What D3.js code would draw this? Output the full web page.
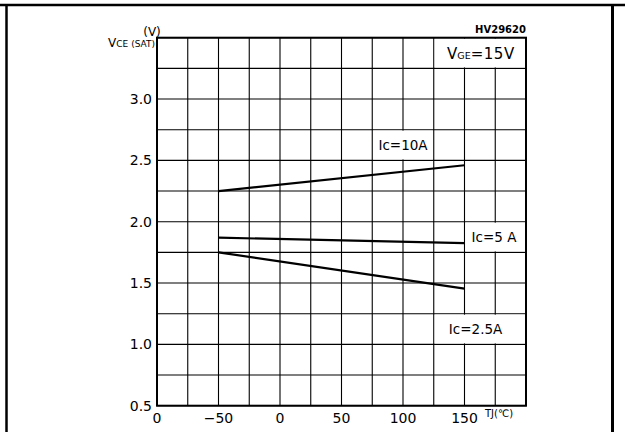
<!DOCTYPE html>
<html>
<head>
<meta charset="utf-8">
<script src="https://cdn.jsdelivr.net/npm/d3@7"></script>
<style>
  body { margin: 0; background: white; }
  text { font-family: "DejaVu Sans", sans-serif; fill: black; }
</style>
</head>
<body>
<script>
// ---------------------------------------------------------------- //
//                              DATA                                //
// ---------------------------------------------------------------- //

var tempPoints   = [-50, 150];
var seriesNames  = ["Ic=10A", "Ic=5 A", "Ic=2.5A"];
var seriesValues = [[2.25, 2.46], [1.87, 1.825], [1.75, 1.455]];

var xTickValues  = [-100, -50, 0, 50, 100, 150];
var xTickLabels  = ["0", "\u221250", "0", "50", "100", "150"];
var yTickValues  = [0.5, 1.0, 1.5, 2.0, 2.5, 3.0];
var yTickLabels  = ["0.5", "1.0", "1.5", "2.0", "2.5", "3.0"];

// label boxes: [t0, t1, v0, v1], text and anchor point
var labelBoxes = [
    { text: "Ic=10A",  box: [75, 125, 2.5, 2.75],  at: [100, 2.625] },
    { text: "Ic=5 A",  box: [150, 200, 1.75, 2.0], at: [174, 1.875] },
    { text: "Ic=2.5A", box: [125, 200, 1.0, 1.25], at: [159, 1.125] }
];

// ---------------------------------------------------------------- //
//                              SETUP                               //
// ---------------------------------------------------------------- //

var W = 625, H = 432;
var svg = d3.select("body").append("svg")
    .attr("width", W)
    .attr("height", H);

var x = d3.scaleLinear().domain([-100, 200]).range([157, 526]);
var y = d3.scaleLinear().domain([0.5, 3.5]).range([405.7, 37.7]);

// outer frame
svg.append("line").attr("x1", 0).attr("x2", W).attr("y1", 5).attr("y2", 5)
    .attr("stroke", "black").attr("stroke-width", 2.5);
svg.append("line").attr("x1", 6.5).attr("x2", 6.5).attr("y1", 4).attr("y2", H)
    .attr("stroke", "black").attr("stroke-width", 2.5);
svg.append("line").attr("x1", 612.5).attr("x2", 612.5).attr("y1", 4).attr("y2", H)
    .attr("stroke", "black").attr("stroke-width", 3);

// ---------------------------------------------------------------- //
//                              GRID                                //
// ---------------------------------------------------------------- //

var grid = svg.append("g");
grid.selectAll(".vg")
    .data(d3.range(-100, 201, 25))
    .enter().append("line")
    .attr("x1", function(d) { return x(d); })
    .attr("x2", function(d) { return x(d); })
    .attr("y1", y(0.5)).attr("y2", y(3.5))
    .attr("stroke", "black").attr("stroke-width", 1.1);

grid.selectAll(".hg")
    .data(d3.range(0.5, 3.51, 0.25))
    .enter().append("line")
    .attr("x1", x(-100)).attr("x2", x(200))
    .attr("y1", function(d) { return y(d); })
    .attr("y2", function(d) { return y(d); })
    .attr("stroke", "black").attr("stroke-width", 1.1);

// white boxes for curve labels
svg.selectAll(".lbox")
    .data(labelBoxes)
    .enter().append("rect")
    .attr("x", function(d) { return x(d.box[0]) + 1; })
    .attr("width", function(d) { return x(d.box[1]) - x(d.box[0]) - 2; })
    .attr("y", function(d) { return y(d.box[3]) + 1; })
    .attr("height", function(d) { return y(d.box[2]) - y(d.box[3]) - 2; })
    .attr("fill", "white");

svg.selectAll(".ltext")
    .data(labelBoxes)
    .enter().append("text")
    .attr("x", function(d) { return x(d.at[0]); })
    .attr("y", function(d) { return y(d.at[1]) + 5; })
    .attr("text-anchor", "middle")
    .style("font-size", "13.5px")
    .text(function(d) { return d.text; });

// VGE box
svg.append("rect")
    .attr("x", x(125) + 1).attr("width", x(200) - x(125) - 2)
    .attr("y", y(3.5) + 1).attr("height", y(3.25) - y(3.5) - 2)
    .attr("fill", "white");
var vge = svg.append("text")
    .attr("x", x(162.5) + 1).attr("y", y(3.375) + 6)
    .attr("text-anchor", "middle");
vge.append("tspan").style("font-size", "15px").text("V");
vge.append("tspan").style("font-size", "9.5px").text("GE");
vge.append("tspan").style("font-size", "15px").attr("letter-spacing", "0.5px").text("=15V");

// plot border
svg.append("rect")
    .attr("x", x(-100)).attr("y", y(3.5))
    .attr("width", x(200) - x(-100)).attr("height", y(0.5) - y(3.5))
    .attr("fill", "none").attr("stroke", "black").attr("stroke-width", 2);

// ---------------------------------------------------------------- //
//                              CURVES                              //
// ---------------------------------------------------------------- //

var lineFunction = d3.line()
    .x(function(d, i) { return x(tempPoints[i]); })
    .y(function(d) { return y(d); });

svg.selectAll(".curve")
    .data(seriesValues)
    .enter().append("path")
    .attr("d", lineFunction)
    .attr("fill", "none")
    .attr("stroke", "black")
    .attr("stroke-width", 2.2);

// ---------------------------------------------------------------- //
//                              AXES                                //
// ---------------------------------------------------------------- //

svg.selectAll(".ytick")
    .data(yTickValues)
    .enter().append("text")
    .attr("x", 152)
    .attr("y", function(d) { return y(d) + 5; })
    .attr("text-anchor", "end")
    .style("font-size", "14px")
    .text(function(d, i) { return yTickLabels[i]; });

svg.selectAll(".xtick")
    .data(xTickValues)
    .enter().append("text")
    .attr("x", function(d) { return x(d); })
    .attr("y", 423)
    .attr("text-anchor", "middle")
    .style("font-size", "14px")
    .text(function(d, i) { return xTickLabels[i]; });

// axis titles
var yt = svg.append("text").attr("x", 155).attr("y", 47).attr("text-anchor", "end");
yt.append("tspan").style("font-size", "12px").text("V");
yt.append("tspan").style("font-size", "9px").text("CE (SAT)");
svg.append("text").attr("x", 152).attr("y", 36).attr("text-anchor", "middle")
    .style("font-size", "12px").text("(V)");

svg.append("text").attr("x", 485).attr("y", 417)
    .style("font-size", "10px").text("TJ(\u2103)");

svg.append("text").attr("x", 526).attr("y", 33).attr("text-anchor", "end")
    .style("font-size", "10px").style("font-weight", "bold").text("HV29620");
</script>
</body>
</html>
